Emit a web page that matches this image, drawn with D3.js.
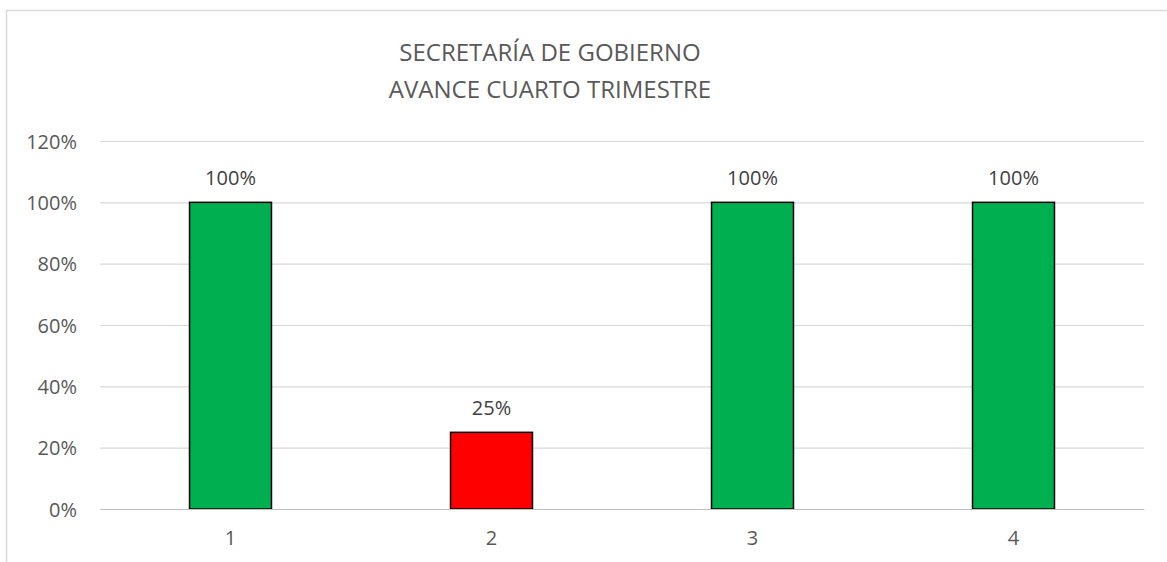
<!DOCTYPE html>
<html>
<head>
<meta charset="utf-8">
<script src="https://cdn.jsdelivr.net/npm/d3@7"></script>
<style>
  html, body { margin: 0; padding: 0; background: #fff; }
  svg { display: block; font-family: "Open Sans", sans-serif; }
</style>
</head>
<body>
<svg id="chart" width="1167" height="562"></svg>
<script>
// datos del gráfico
var categories = ["1", "2", "3", "4"];
var values = [1.00, 0.25, 1.00, 1.00];
var barColors = ["#00b050", "#ff0000", "#00b050", "#00b050"];
var yTicks = [0, 0.2, 0.4, 0.6, 0.8, 1.0, 1.2];
var titleLines = ["SECRETARÍA DE GOBIERNO", "AVANCE CUARTO TRIMESTRE"];

var svg = d3.select("#chart");
var W = 1167, H = 562;
var fontFam = "'Open Sans', sans-serif";

// marco exterior
svg.append("rect")
   .attr("x", 6.5).attr("y", 10.5)
   .attr("width", W + 10).attr("height", H + 10)
   .attr("fill", "#fff")
   .attr("stroke", "#d9d9d9")
   .attr("stroke-width", 1.5);

var margin = {left: 100, right: 23, top: 141, bottom: 53};
var width = W - margin.left - margin.right;
var height = (H - margin.bottom) - margin.top;

var x = d3.scaleBand()
          .domain(categories)
          .range([0, width])
          .paddingInner(0.686)
          .paddingOuter(0.343);
var y = d3.scaleLinear()
          .domain([0, 1.2])
          .range([height, 0]);

var gr = svg.append("g")
   .attr("transform", "translate(" + margin.left + "," + margin.top + ")");

// titulo
svg.append("text")
   .attr("text-anchor", "middle")
   .attr("fill", "#595959")
   .style("font-size", "24px")
   .selectAll("tspan")
   .data(titleLines)
   .enter()
   .append("tspan")
   .attr("x", 550)
   .attr("y", function(d, i) { return 61 + i * 37; })
   .text(function(d) { return d; });

// lineas de cuadricula + eje y
var yAxis = gr.append("g")
   .attr("class", "y-axis")
   .call(d3.axisLeft(y)
           .tickValues(yTicks)
           .tickSize(-width)
           .tickPadding(23)
           .tickFormat(d3.format(".0%")));
yAxis.attr("font-family", fontFam);
yAxis.select(".domain").remove();
yAxis.selectAll("line")
   .attr("stroke", "#d9d9d9")
   .attr("stroke-width", 1.2);
yAxis.selectAll("text")
   .attr("fill", "#595959")
   .style("font-size", "20px")
   .attr("dy", "0.35em");

// barras
gr.selectAll(".bar")
  .data(values)
  .enter()
  .append("rect")
  .attr("class", "bar")
  .attr("x", function(d, i) { return x(categories[i]); })
  .attr("width", x.bandwidth())
  .attr("y", function(d) { return y(d); })
  .attr("height", function(d) { return height - y(d); })
  .attr("fill", function(d, i) { return barColors[i]; })
  .attr("stroke", "#000")
  .attr("stroke-width", 1.5);

// eje x
var xAxis = gr.append("g")
   .attr("transform", "translate(0," + height + ")")
   .call(d3.axisBottom(x).tickSize(0).tickPadding(22));
xAxis.attr("font-family", fontFam);
xAxis.select(".domain")
   .attr("stroke", "#bfbfbf")
   .attr("stroke-width", 1.2);
xAxis.selectAll("text")
   .attr("fill", "#595959")
   .style("font-size", "20px");

// etiquetas de datos
gr.selectAll(".lbl")
  .data(values)
  .enter()
  .append("text")
  .attr("class", "lbl")
  .attr("x", function(d, i) { return x(categories[i]) + x.bandwidth() / 2; })
  .attr("y", function(d) { return y(d) - 17; })
  .attr("text-anchor", "middle")
  .attr("fill", "#404040")
  .style("font-size", "20px")
  .text(function(d) { return d3.format(".0%")(d); });
</script>
</body>
</html>
